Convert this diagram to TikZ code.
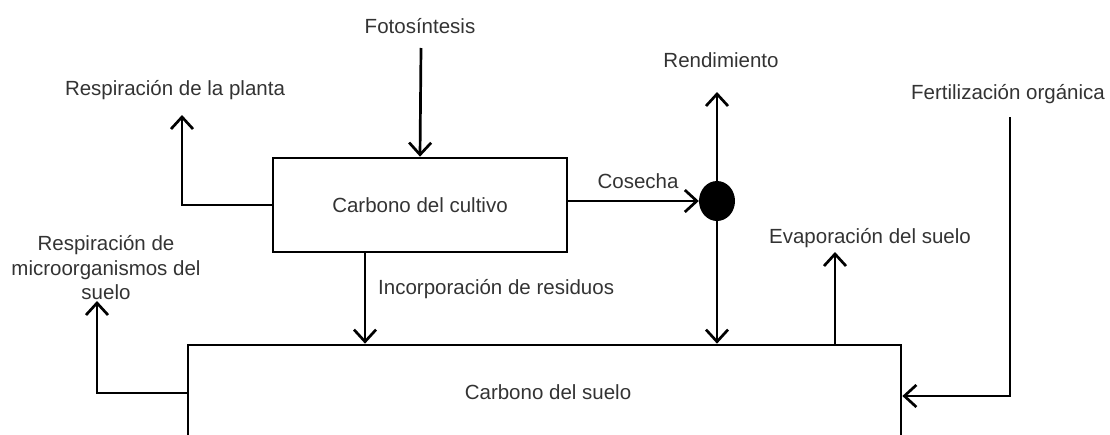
\documentclass[tikz,border=0pt]{standalone}
\usepackage{fontspec}
\setmainfont{Liberation Sans}
\usetikzlibrary{arrows.meta,shapes.geometric}

\tikzset{
	caja/.style={draw, line width=2.7pt, inner sep=0pt},
	flujo/.style={line width=2.7pt, ->},
	etiqueta/.style={text=black!80, inner sep=0pt, align=center,
		font=\fontsize{20.5}{24.5}\selectfont},
}

\begin{document}
\begin{tikzpicture}[x=1pt, y=-1pt, >={Straight Barb[length=12pt, width=22pt]}]
	\useasboundingbox (0,0) rectangle (1110,434);
	\clip (0,0) rectangle (1110,434);

	% cajas
	\node [caja, minimum width=294pt, minimum height=94pt] (cultivo)
		at (420,205) {};
	\node [etiqueta] (cultivotxt) at (420,205) {Carbono del cultivo};

	\node [caja, minimum width=713pt, minimum height=96pt] (suelo)
		at (544.5,393) {};
	\node [etiqueta] (suelotxt) at (548,392) {Carbono del suelo};

	\node [fill=black, ellipse, minimum width=36pt, minimum height=40pt, inner sep=0pt] (punto)
		at (717,201) {};

	% textos
	\node [etiqueta] (fotosintesis) at (420,26) {Fotosíntesis};
	\node [etiqueta] (resplanta) at (175,90) {Respiración de la planta};
	\node [etiqueta] (cosecha) at (638,181) {Cosecha};
	\node [etiqueta] (rendimiento) at (721,60) {Rendimiento};
	\node [etiqueta] (fertilizacion) at (1008,94) {Fertilización orgánica};
	\node [etiqueta] (respmicro) at (106,268)
		{Respiración de\\microorganismos del\\suelo};
	\node [etiqueta, anchor=west] (incorporacion) at (378,289) {Incorporación de residuos};
	\node [etiqueta] (evaporacion) at (870,238) {Evaporación del suelo};

	% extremos libres
	\coordinate (fotoini) at (421,48);
	\coordinate (plantafin) at (182,115);
	\coordinate (rendfin) at (717,92);
	\coordinate (microfin) at (97,301);
	\coordinate (evapfin) at (835,252);
	\coordinate (fertini) at (1010,117);

	% flujos
	\draw [flujo]
		(fotoini) -- (cultivo.north);

	\draw [flujo]
		(cultivo.west) -- (plantafin |- cultivo.west) -- (plantafin);

	\draw [flujo]
		(cultivo.east |- punto) -- (punto.west);

	\draw [flujo]
		(punto.north) -- (rendfin);

	\draw [flujo]
		(punto.south) -- (punto |- suelo.north);

	\draw [flujo]
		(365,0 |- cultivo.south) -- (365,0 |- suelo.north);

	\draw [flujo]
		(suelo.west) -- (microfin |- suelo.west) -- (microfin);

	\draw [flujo]
		(evapfin |- suelo.north) -- (evapfin);

	\draw [flujo]
		(fertini) -- (fertini |- 0,396) -- (suelo.east |- 0,396);
\end{tikzpicture}
\end{document}
